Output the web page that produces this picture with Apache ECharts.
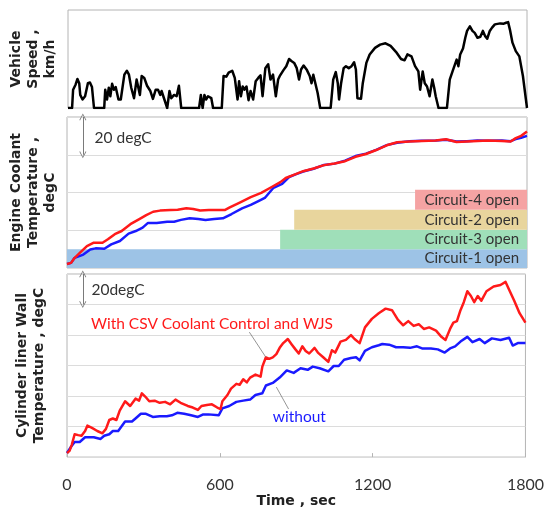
<!DOCTYPE html>
<html>
<head>
<meta charset="utf-8">
<script src="https://cdn.jsdelivr.net/npm/echarts@6/dist/echarts.min.js"></script>
<style>
  html, body { margin: 0; padding: 0; background: #fff; }
  #chart { width: 547px; height: 509px; }
</style>
</head>
<body>
<div id="chart"></div>
<script>
// Time axis ticks (sec)
const timeTicks = [0, 600, 1200, 1800];

// Vehicle speed [time s, km/h]
const speed = [
  [0,0],[16,0],[20,28],[30,36],[37,44.5],[44,38],[48,20],[57,13],[67,18],[78,38],[86,39],[94,32],[102,0],
  [142,0],[146,28],[153,13],[160,31],[166,18],[173,37],[180,28],[187,32],[198,13],[207,13],[221,51],[231,57],
  [239,51],[248,31],[259,15],[269,43.5],[276,46],[282,20],[289,49],[299,46],[310,34],[323,26],[333,14],[344,28],
  [353,28],[362,20],[367,26],[378,13],[389,0],[398,26],[405,15],[416,20],[426,18],[435,34],[444,0],[514,0],
  [521,20],[528,0],[535,20],[542,13],[549,18],[562,15],[569,0],[603,0],[610,49],[621,48],[630,54],[644,57],
  [654,46],[665,13],[671,41],[678,18],[685,33],[692,28],[700,33],[708,12],[716,26],[726,13],[736,41],[746,46],
  [755,50],[763,18],[774,61],[785,67],[794,43.5],[804,51],[815,18],[824,43.5],[832,50],[845,58],[856,64],
  [867,75],[876,72],[887,69],[897,61],[906,43.5],[914,59],[924,65],[937,58],[948,49],[955,38],[962,51],
  [969,51],[979,23],[989,0],[1030,0],[1040,43.5],[1050,55],[1058,38],[1063,13],[1071,38],[1081,61],[1090,64],
  [1101,61],[1112,64],[1122,70],[1129,59],[1135,15],[1142,18],[1149,14],[1156,38],[1170,69],[1183,82],
  [1204,92],[1224,97],[1245,99],[1265,95],[1286,86],[1306,75],[1320,73],[1331,82],[1347,79],[1354,79],
  [1361,64],[1374,56],[1381,28],[1391,56],[1399,38],[1408,33],[1418,18],[1429,43.5],[1436,31],[1442,18],
  [1453,0],[1486,0],[1497,43.5],[1508,56],[1515,59],[1524,74],[1531,64],[1538,82],[1549,91],[1558,107.5],
  [1565,118],[1576,125],[1586,118],[1595,115],[1606,107.5],[1617,109],[1627,118],[1636,110],[1644,106],
  [1654,118],[1663,123],[1674,128],[1695,129.5],[1709,129],[1718,130.5],[1726,131.5],[1733,120],[1743,100],
  [1756,87],[1770,79],[1784,49],[1800,0]
];

// Engine coolant temperature [time s, degC] - with CSV coolant control and WJS
const coolantWith = [
  [0,22.1],[16,22.7],[30,25.4],[50,28],[78,31.6],[105,33.4],[139,33.4],[160,35.2],[187,37.9],[214,39.6],
  [248,43.2],[283,45.9],[310,48],[337,49.8],[364,50.4],[405,50.7],[433,50.9],[467,51.6],[494,51.3],[521,50.5],
  [555,50.7],[590,50.7],[617,50.7],[637,52.1],[678,54.8],[719,57.5],[760,59.8],[801,62.9],[835,65.5],
  [856,67.7],[890,69.5],[924,71.3],[965,72.7],[1006,74.5],[1047,75.4],[1088,76.6],[1129,78.9],[1170,80.4],
  [1210,82.5],[1251,85],[1292,86.6],[1340,87],[1388,87.3],[1443,87.5],[1483,88.2],[1524,86.8],[1565,87],
  [1606,87.3],[1647,87.5],[1702,87.3],[1736,87],[1756,88.8],[1777,90],[1800,92.3]
];
// Engine coolant temperature - without
const coolantWithout = [
  [0,22.1],[16,22.7],[30,25.4],[64,27.1],[91,29.8],[112,30.4],[146,30.2],[173,32.5],[207,34.3],[241,38.2],
  [269,39.6],[296,41.4],[317,43.9],[351,43.8],[392,44.5],[419,44.5],[446,45.5],[480,46.4],[514,45.9],
  [542,45.4],[576,45.9],[610,46.3],[644,48.6],[685,51.6],[719,53.4],[753,55.7],[774,57.1],[808,62.5],
  [842,64.6],[869,68.2],[897,69.7],[924,71.1],[965,72.6],[1006,74.6],[1047,75.3],[1088,76.9],[1129,79.3],
  [1170,80.6],[1210,82.6],[1251,85.1],[1292,86.4],[1340,87.1],[1388,87.4],[1443,87.6],[1483,88],[1524,87],
  [1565,87.2],[1606,87.5],[1647,87.4],[1702,87.5],[1736,87.2],[1756,88.3],[1777,89],[1800,90]
];

// Cylinder liner wall temperature [time s, degC] - with CSV coolant control and WJS
const linerWith = [
  [0,22.7],[10,24.1],[19,28.2],[30,35],[44,34.4],[57,34],[71,37.1],[80,40.6],[98,39.1],[119,37.1],[139,35.6],
  [153,38.5],[166,44.3],[180,45.3],[194,44.3],[207,50.5],[228,56.6],[248,53.5],[269,58.3],[283,57],[294,61.8],
  [307,59.7],[323,56.6],[344,57],[364,55.6],[385,56.2],[405,54.6],[426,57.7],[446,55.6],[474,53.5],[494,52.5],
  [514,50.9],[528,53.5],[549,54.2],[569,54.6],[590,52.5],[603,51.5],[610,56.6],[630,60.7],[644,64.9],[665,68],
  [678,67.4],[692,71],[706,69],[719,72.1],[740,74.1],[760,72.7],[767,79.3],[781,85.4],[794,84.4],[808,85.4],
  [822,87.5],[835,91.6],[849,94.7],[867,97.4],[883,93.7],[897,90.6],[910,87.9],[924,92.6],[937,89.6],
  [951,87.9],[972,91.6],[985,88.5],[1006,85.4],[1026,82.4],[1040,90],[1053,88.5],[1074,95.7],[1095,96.8],
  [1115,99.9],[1129,97.4],[1149,94.7],[1170,105],[1197,110.6],[1224,114.3],[1251,117.3],[1276,116.3],
  [1299,110.1],[1320,106.4],[1340,109.1],[1361,106],[1381,107.1],[1401,104],[1422,105],[1449,102.9],
  [1470,98.8],[1486,96.8],[1504,104],[1517,108.1],[1531,109.1],[1545,116.3],[1558,121.5],[1572,128.7],
  [1586,125.6],[1599,121.5],[1613,125.6],[1627,122.5],[1647,128.7],[1675,131.8],[1702,132.8],[1722,134.8],
  [1736,129.7],[1756,122.5],[1777,114.3],[1800,108.1]
];
// Cylinder liner wall temperature - without
const linerWithout = [
  [0,22.7],[16,26.8],[30,29.9],[50,29.9],[71,33],[105,33],[132,31.9],[146,34],[166,35],[180,37.1],[201,37.1],
  [228,43.3],[255,43.3],[269,45.3],[290,48.4],[310,48.4],[337,46.3],[364,46.8],[392,46.8],[412,47.4],[433,49],
  [460,48.4],[487,47.4],[514,46.3],[535,48],[555,48],[596,47.4],[610,51.9],[637,53.5],[665,56.2],[692,57],
  [719,57.7],[740,60.7],[767,61.8],[781,66.9],[808,68.6],[835,72.1],[863,76.8],[890,75.2],[917,78.2],
  [945,77.2],[965,79.3],[992,78.2],[1026,76.2],[1047,79.7],[1067,79.7],[1088,83.8],[1115,85],[1135,85.4],
  [1149,83.4],[1170,89.6],[1197,92],[1224,93.3],[1238,94.1],[1265,93.7],[1292,92],[1320,92],[1347,91.6],
  [1374,92.6],[1394,91.2],[1429,91.2],[1456,90.6],[1483,88.5],[1504,91.2],[1524,92.6],[1545,95.7],
  [1572,98.8],[1592,95.3],[1620,97.4],[1640,94.7],[1668,97.8],[1702,96.8],[1736,98.2],[1750,93.1],
  [1770,94.7],[1800,94.7]
];

// Coolant circuit opening bands: label, open from (s), lower / upper degC, colour
const circuitNames  = ['Circuit-1 open', 'Circuit-3 open', 'Circuit-2 open', 'Circuit-4 open'];
const circuitStart  = [0, 834, 889, 1362];
const circuitLow    = [20, 30, 40.2, 50.8];
const circuitHigh   = [30, 40.2, 50.8, 61.4];
const circuitColors = ['#9dc3e6', '#9fdfb9', '#e8d59d', '#f5a3a3'];

// Text notes placed in data space: [grid, time, degC, text, colour]
const notes = [
  [1, 108, 88.8, '20 degC', '#333333'],
  [2, 96, 129.7, '20degC', '#333333'],
  [2, 94, 107, 'With CSV Coolant Control and WJS', '#ff1a1a'],
  [2, 808, 46.3, 'without', '#1a1aff']
];

const FONT = 'Lato';
const TITLE_FONT = 'DejaVu Sans';
const chevron = 'path://M0,10 L5,0 L10,10 L9,10.6 L5,2.2 L1,10.6 Z';

const gridBox = { show: true, borderColor: '#b4b4b4', borderWidth: 1, backgroundColor: 'transparent', left: 67, right: 20 };

function xAxisFor(gridIndex, showLabels) {
  return {
    type: 'value', gridIndex, min: timeTicks[0], max: timeTicks[timeTicks.length - 1],
    interval: timeTicks[1] - timeTicks[0],
    axisLine: { show: false },
    axisTick: { show: showLabels, inside: true, length: 4, lineStyle: { color: '#b4b4b4' } },
    splitLine: { show: false },
    axisLabel: {
      show: showLabels, fontFamily: FONT, fontSize: 16, color: '#333', margin: 20,
      formatter: (v) => String(v)
    },
    name: showLabels ? 'Time , sec' : '',
    nameLocation: 'middle', nameGap: 29,
    nameTextStyle: { fontFamily: TITLE_FONT, fontWeight: 'bold', fontSize: 14, color: '#222' }
  };
}

function yAxisFor(gridIndex, min, max, interval, name, gap, split) {
  return {
    type: 'value', gridIndex, min, max, interval,
    axisLine: { show: false }, axisTick: { show: false }, axisLabel: { show: false },
    splitLine: { show: split, lineStyle: { color: '#dcdcdc', width: 1 } },
    name, nameLocation: 'middle', nameRotate: 90, nameGap: gap,
    nameTextStyle: { fontFamily: TITLE_FONT, fontWeight: 'bold', fontSize: 14, lineHeight: 17, color: '#222' }
  };
}

function lineSeries(data, x, y, color, width, extra) {
  return Object.assign({
    type: 'line', xAxisIndex: x, yAxisIndex: y, data, showSymbol: false, symbol: 'none',
    lineStyle: { color, width, join: 'round' }, silent: true, animation: false, z: 3
  }, extra || {});
}

const arrowStyle = { color: '#7a7a7a', width: 1, type: 'solid' };

const option = {
  animation: false,
  backgroundColor: '#ffffff',
  grid: [
    Object.assign({ top: 10, height: 98 }, gridBox),
    Object.assign({ top: 117, height: 151 }, gridBox),
    Object.assign({ top: 274, height: 194 }, gridBox)
  ],
  xAxis: [xAxisFor(0, false), xAxisFor(1, false), xAxisFor(2, true)],
  yAxis: [
    yAxisFor(0, 0, 150, 50, 'Vehicle\nSpeed ,\nkm/h', 9, false),
    yAxisFor(1, 20, 100, 20, 'Engine Coolant\nTemperature ,\ndegC', 8, true),
    yAxisFor(2, 20, 140, 20, 'Cylinder liner Wall\nTemperature , degC', 19, true)
  ],
  series: [
    lineSeries(speed, 0, 0, '#000000', 2.5),
    {
      type: 'line', xAxisIndex: 1, yAxisIndex: 1, data: [], z: 1, silent: true,
      markArea: {
        silent: true,
        data: circuitNames.map((name, i) => [
          {
            xAxis: circuitStart[i], yAxis: circuitLow[i], name,
            itemStyle: { color: circuitColors[i], opacity: 1 },
            label: {
              show: true, position: 'insideRight', distance: 8,
              fontFamily: FONT, fontSize: 15, color: '#333'
            }
          },
          { xAxis: 1800, yAxis: circuitHigh[i] }
        ])
      }
    },
    lineSeries(coolantWithout, 1, 1, '#1a1aff', 2.5, {
      markLine: {
        silent: true, symbol: [chevron, chevron], symbolSize: [7, 7],
        lineStyle: arrowStyle, label: { show: false },
        data: [[{ coord: [62, 100] }, { coord: [62, 80] }]]
      }
    }),
    lineSeries(coolantWith, 1, 1, '#ff1a1a', 2.5),
    lineSeries(linerWithout, 2, 2, '#1a1aff', 2.5, {
      markLine: {
        silent: true, symbol: ['none', 'none'],
        lineStyle: { color: '#7a7a7a', width: 0.8, type: 'solid' }, label: { show: false },
        data: [[{ coord: [822, 65.9] }, { coord: [870, 51.5] }]]
      }
    }),
    lineSeries(linerWith, 2, 2, '#ff1a1a', 2.5, {
      markLine: {
        silent: true, symbol: ['none', 'none'],
        lineStyle: { color: '#7a7a7a', width: 0.8, type: 'solid' }, label: { show: false },
        data: [[{ coord: [716, 101.9] }, { coord: [781, 85.4] }]]
      }
    }),
    {
      type: 'line', xAxisIndex: 2, yAxisIndex: 2, data: [], silent: true,
      markLine: {
        silent: true, symbol: [chevron, chevron], symbolSize: [7, 7],
        lineStyle: arrowStyle, label: { show: false },
        data: [[{ coord: [62, 140] }, { coord: [62, 120] }]]
      }
    }
  ]
};

const chart = echarts.init(document.getElementById('chart'), null, { renderer: 'canvas' });
chart.setOption(option);

// Place the text notes through the grid scales
chart.setOption({
  graphic: notes.map(([g, t, v, text, color]) => {
    const p = chart.convertToPixel({ gridIndex: g }, [t, v]);
    return {
      type: 'text', x: p[0], y: p[1], silent: true, z: 10,
      style: { text, fill: color, font: '15.5px ' + FONT, textAlign: 'left', textVerticalAlign: 'middle' }
    };
  })
});
</script>
</body>
</html>
